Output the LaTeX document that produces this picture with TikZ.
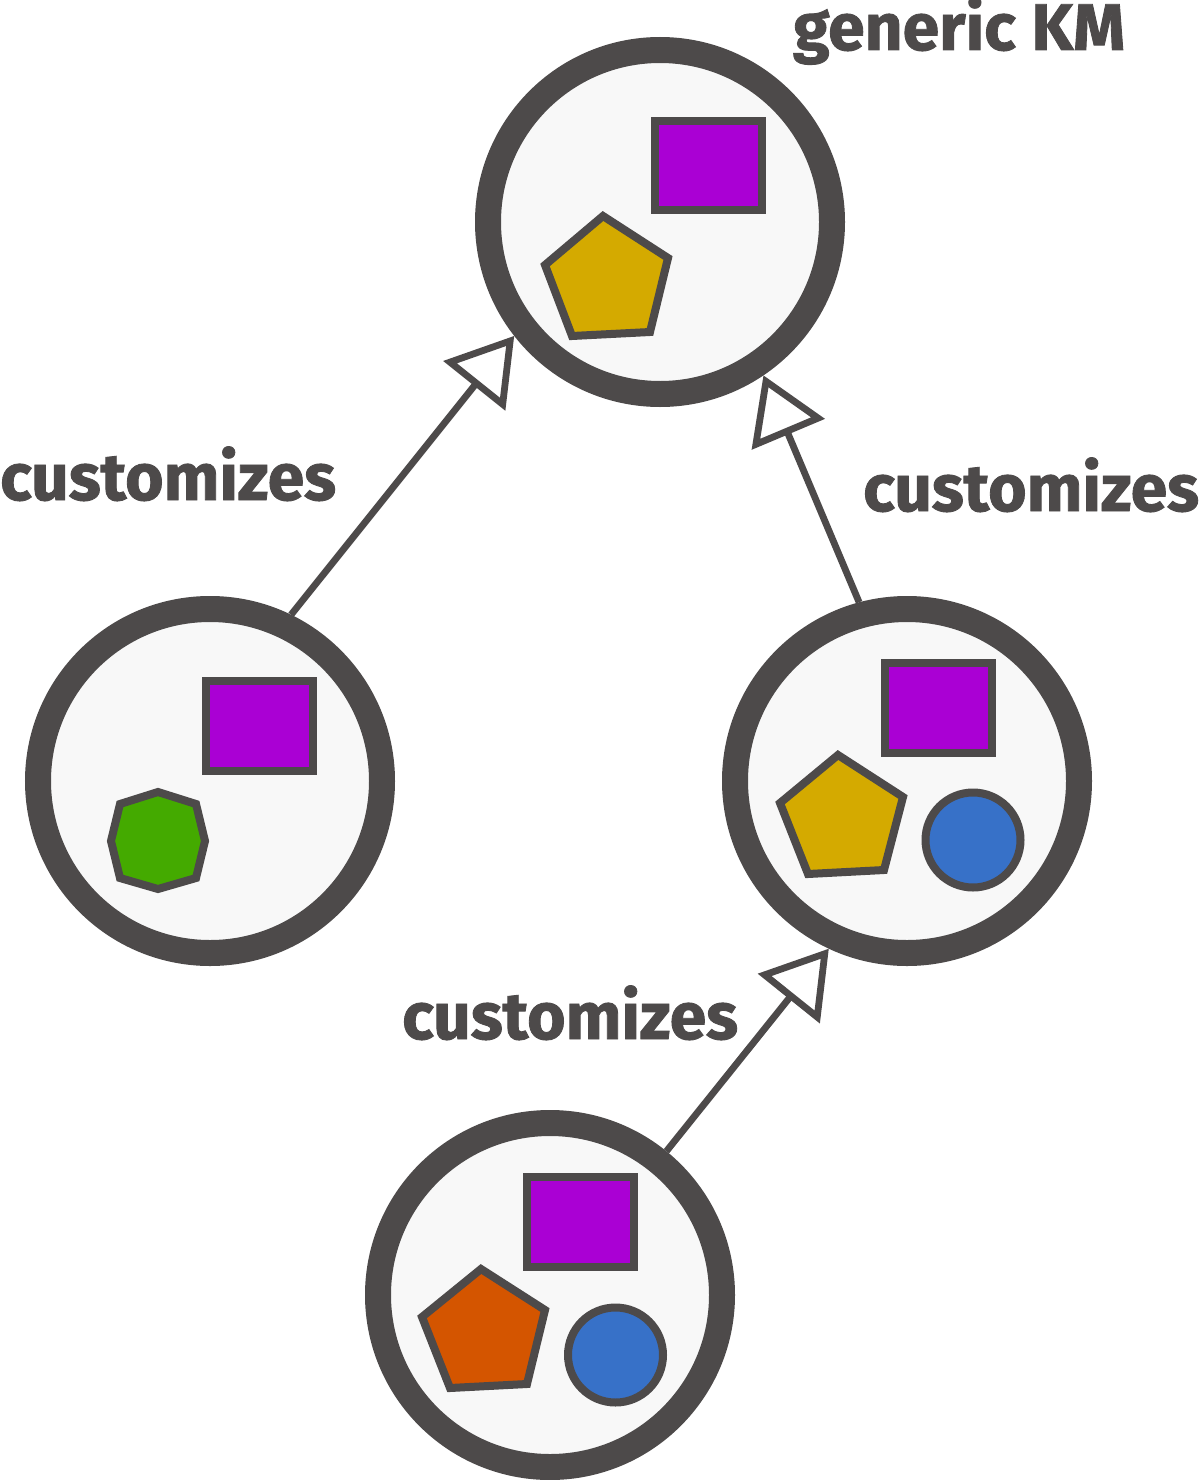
\documentclass[tikz,border=0pt]{standalone}
\usepackage{fontspec}
\setmainfont{Fira Sans}[BoldFeatures={FakeBold=1.3}]
\usetikzlibrary{arrows.meta}
\definecolor{ink}{HTML}{4D4A4A}
\definecolor{circfill}{HTML}{F8F8F8}
\definecolor{purp}{HTML}{AA00D4}
\definecolor{gold}{HTML}{D4AA00}
\definecolor{grn}{HTML}{44AA00}
\definecolor{blu}{HTML}{3771C8}
\definecolor{orng}{HTML}{D45500}
\tikzset{
  km/.style={circle, draw=ink, line width=26pt, fill=circfill, minimum size=344pt, inner sep=0pt},
  shp/.style={draw=ink, line width=8pt, line join=miter},
  conn/.style={draw=ink, line width=6.8pt, -{Triangle[fill=white, length=64pt, width=78pt]}},
  lbl/.style={text=ink, font=\fontsize{66}{78}\selectfont\bfseries, inner sep=0pt, anchor=base west},
}
\begin{document}
\begin{tikzpicture}[x=1pt,y=-1pt]
\useasboundingbox (0,0) rectangle (1200,1480);
% circles
\node[km] (top) at (660,222) {};
\node[km] (left) at (210,781) {};
\node[km] (right) at (907,781) {};
\node[km] (bottom) at (550,1295) {};
% top contents
\draw[shp, fill=purp] (655,121) rectangle (762,210);
\draw[shp, fill=gold] (603,216) -- (668,258) -- (650,332) -- (572,336) -- (545,265) -- cycle;
% left contents
\draw[shp, fill=purp] (206,681) rectangle (313,771);
\draw[shp, fill=grn] (158,792) -- (196,804) -- (205,841) -- (196,878) -- (158,889) -- (120,878) -- (111,841) -- (120,804) -- cycle;
% right contents
\draw[shp, fill=purp] (885,663) rectangle (992,753);
\draw[shp, fill=gold] (838,755) -- (903,797) -- (884,870) -- (808,874) -- (780,803) -- cycle;
\draw[shp, fill=blu] (973,840) circle[radius=47.5];
% bottom contents
\draw[shp, fill=purp] (527,1177) rectangle (634,1267);
\draw[shp, fill=orng] (481,1269) -- (545,1310) -- (527,1384) -- (450,1388) -- (422,1317) -- cycle;
\draw[shp, fill=blu] (615.5,1355) circle[radius=47.5];
% connectors
\draw[conn] (left.64) -- (top.218);
\draw[conn] (right.105) -- (top.304);
\draw[conn] (bottom.51) -- (right.245);
% labels
\node[lbl] (title) at (793,50) {generic KM};
\node[lbl] (lblL) at (0,500) {customizes};
\node[lbl] (lblR) at (863,511) {customizes};
\node[lbl] (lblB) at (402,1039) {customizes};
\end{tikzpicture}
\end{document}
